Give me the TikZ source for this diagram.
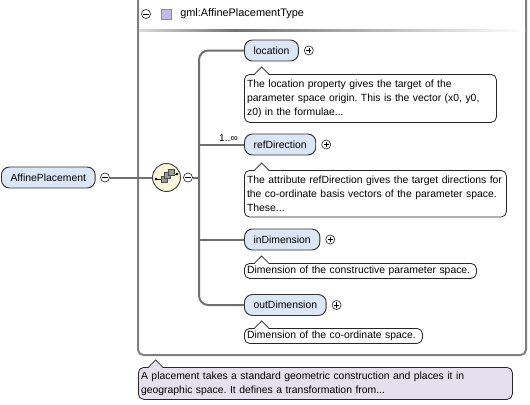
\documentclass[tikz,border=0pt]{standalone}
\usepackage{fontspec}
\setmainfont{Liberation Sans}
\usetikzlibrary{positioning}
\frenchspacing

\definecolor{elemfill}{RGB}{219,230,246}
\definecolor{seqfill}{RGB}{250,246,218}
\definecolor{typefill}{RGB}{229,223,238}
\definecolor{iconfill}{RGB}{196,186,232}
\definecolor{linegray}{RGB}{112,112,112}
\definecolor{boxgray}{RGB}{128,128,128}

\tikzset{
	elem/.style={draw=black!80, fill=elemfill, rounded corners=6pt, minimum height=15.75pt,
		inner xsep=6.8pt, inner ysep=0pt, line width=.7pt, anchor=west, font=\fontsize{7.8}{9}\selectfont},
	doc/.style={draw=black!85, fill=white, rounded corners=4pt, anchor=north west, align=left,
		inner xsep=2pt, inner ysep=2pt, line width=.6pt, font=\fontsize{7.8}{10.5}\selectfont},
	toggle/.style={circle, draw=black!80, fill=white, minimum size=6.8pt, inner sep=0pt, line width=.5pt},
	wire/.style={linegray, line width=1.5pt},
}

% little speech-bubble tip on top of a doc box
\newcommand{\doctip}[2]{%
	\fill[#2] ([xshift=8pt,yshift=-.6pt]#1.north west) -- ++(5.25pt,5.25pt) -- ++(5.25pt,-5.25pt) -- cycle;
	\draw[black!85, line width=.6pt] ([xshift=8pt]#1.north west) -- ++(5.25pt,5.25pt) -- ++(5.25pt,-5.25pt);}

\begin{document}
\begin{tikzpicture}[x=.75pt, y=-.75pt]
	\useasboundingbox (0,0) rectangle (530,404);

	% complex type box
	\draw[boxgray, line width=1.5pt, rounded corners=4pt] (138,-10) -- (138,355) -- (526,355) -- (526,-10);
	\shade[left color=black!15, right color=black!55] (139.5,29.3) rectangle (235,31);
	\shade[left color=black!55, right color=white] (235,29.3) rectangle (525,31);
	\node[toggle] (typetoggle) at (146,14) {};
	\node[draw=black!45, fill=iconfill, minimum size=7.5pt, inner sep=0pt] (typeicon) at (166,14) {};
	\node[anchor=west, inner sep=0pt, font=\fontsize{8.2}{9}\selectfont] (typename) at (180,14) {gml:AffinePlacementType};

	% root element and sequence
	\node[elem, minimum width=70pt] (root) at (1,177.5) {AffinePlacement};
	\node[toggle] (roottoggle) at (105,177.5) {};
	\node[circle, draw=black!75, fill=seqfill, minimum size=21pt, line width=.7pt] (seq) at (166.5,177.5) {};
	\node[toggle] (seqtoggle) at (188,177.5) {};
	\coordinate (trunk) at (199,177.5);

	% sequence icon
	\draw[line width=.6pt] (156,179) -- (161,179) (173,174) -- (177,174);
	\fill (156,179) circle (1.1pt) (177,174) circle (1.1pt);
	\foreach \dx/\dy in {0/0,3.5/-3.5,7/-7}{
		\draw[black!70, fill=black!40, line width=.4pt] (161+\dx,176+\dy) rectangle (167+\dx,182+\dy);}

	% child elements
	\node[elem] (loc) at (244,50.5) {location};
	\node[elem] (ref) at (244,144.5) {refDirection};
	\node[elem] (indim) at (244,239.5) {inDimension};
	\node[elem] (outdim) at (244,305) {outDimension};
	\node[anchor=base east, inner sep=0pt, font=\fontsize{7.6}{8}\selectfont] (refmult) at (238,141) {1..∞};

	\draw[wire] (roottoggle.east) -- (seq.west);
	\draw[wire] (seqtoggle.east) -- (trunk);
	\draw[wire, rounded corners=7pt] (loc.west) -| (trunk) |- (outdim.west);
	\draw[wire] (ref.west) -- (ref.west -| trunk);
	\draw[wire] (indim.west) -- (indim.west -| trunk);

	% expand / collapse marks
	\foreach \e in {loc,ref,indim,outdim}{
		\node[toggle, right=3.8pt of \e] (\e-exp) {};
		\draw[line width=.5pt] ([xshift=-1.9pt]\e-exp.center) -- ([xshift=1.9pt]\e-exp.center)
			([yshift=-1.9pt]\e-exp.center) -- ([yshift=1.9pt]\e-exp.center);}
	\foreach \t in {typetoggle,roottoggle,seqtoggle}{
		\draw[line width=.5pt] ([xshift=-1.9pt]\t.center) -- ([xshift=1.9pt]\t.center);}

	% annotations
	\node[doc, text width=185pt, minimum height=36pt] (locdoc) at (244,74)
		{The location property gives the target of the\\parameter space origin. This is the vector (x0, y0,\\z0) in the formulae...};
	\node[doc, text width=192.5pt, minimum height=35pt] (refdoc) at (244,170)
		{The attribute refDirection gives the target directions for\\the co-ordinate basis vectors of the parameter space.\\These...};
	\node[doc, text width=170pt] (indoc) at (244,263) {Dimension of the constructive parameter space.};
	\node[doc, text width=129.5pt] (outdoc) at (244,328) {Dimension of the co-ordinate space.};
	\node[doc, fill=typefill, text width=276.5pt, minimum height=24pt] (typedoc) at (138,367)
		{A placement takes a standard geometric construction and places it in\\geographic space. It defines a transformation from...};
	\foreach \d in {locdoc,refdoc,indoc,outdoc}{\doctip{\d}{white}}
	\doctip{typedoc}{typefill}
\end{tikzpicture}
\end{document}
